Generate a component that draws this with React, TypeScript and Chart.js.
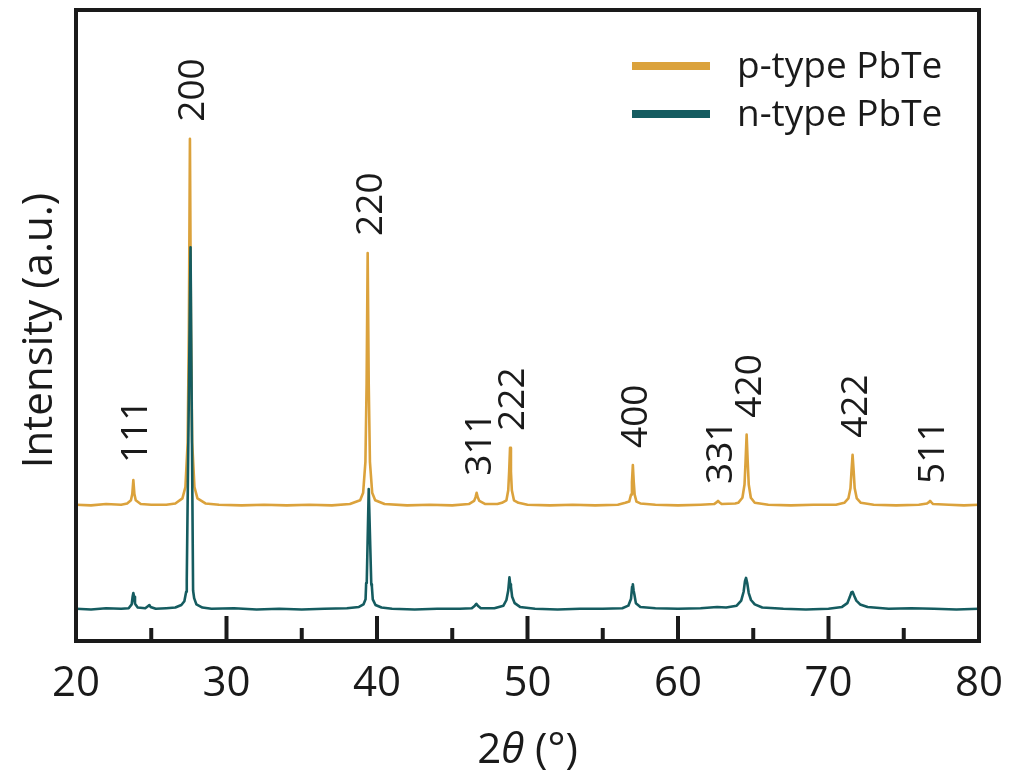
import React, { useEffect, useRef } from "react";
import { Chart, registerables } from "chart.js";

Chart.register(...registerables);

// XRD patterns, [2θ (°), intensity (a.u.)]
const pTypePattern: [number, number][] = [
  [20.0, 21.6], [21.0, 21.5], [22.0, 21.7], [23.0, 21.6], [23.4, 21.8],
  [23.65, 22.3], [23.74, 23.3], [23.81, 25.5], [23.88, 23.3], [23.97, 22.3],
  [24.3, 21.7], [25.0, 21.6], [26.0, 21.6], [26.6, 21.8],
  [27.07, 22.6], [27.27, 24.4], [27.42, 31.5], [27.5, 49.4], [27.57, 79.6],
  [27.64, 49.4], [27.72, 31.5], [27.87, 24.4], [28.07, 22.6], [28.6, 21.8],
  [29.5, 21.6], [31.0, 21.5], [32.5, 21.6], [34.0, 21.5], [35.5, 21.6],
  [37.0, 21.5], [38.2, 21.7],
  [38.88, 22.3], [39.08, 23.5], [39.23, 28.4], [39.31, 40.8], [39.38, 61.5],
  [39.45, 40.8], [39.53, 28.4], [39.68, 23.5], [39.88, 22.3], [40.5, 21.7],
  [42.0, 21.5], [43.5, 21.6], [45.0, 21.5], [46.1, 21.7],
  [46.45, 22.2], [46.55, 22.8], [46.62, 23.5], [46.69, 22.8], [46.8, 22.2],
  [47.2, 21.7], [48.0, 21.7],
  [48.3, 21.9], [48.6, 22.3], [48.72, 23.9], [48.78, 26.8], [48.84, 30.6],
  [48.9, 26.8], [48.96, 23.9], [49.1, 22.3], [49.4, 21.9],
  [50.0, 21.6], [51.5, 21.5], [53.0, 21.6], [54.5, 21.5], [56.0, 21.6],
  [56.5, 21.9], [56.76, 22.1], [56.88, 23.2], [56.94, 25.2], [57.0, 27.9],
  [57.06, 25.2], [57.12, 23.2], [57.24, 22.1], [57.5, 21.8],
  [58.5, 21.6], [60.0, 21.5], [61.5, 21.6], [62.4, 21.7],
  [62.58, 22.0], [62.66, 22.2], [62.74, 22.0], [62.9, 21.7], [63.8, 21.8],
  [64.0, 21.9], [64.28, 22.7], [64.42, 24.8], [64.49, 28.5], [64.56, 32.7],
  [64.63, 28.5], [64.7, 24.8], [64.84, 22.7], [65.1, 21.9],
  [66.0, 21.6], [67.5, 21.5], [69.0, 21.6], [70.5, 21.6],
  [71.05, 21.9], [71.32, 22.6], [71.46, 24.2], [71.53, 27.0], [71.6, 29.5],
  [71.67, 27.0], [71.74, 24.2], [71.88, 22.6], [72.15, 21.9],
  [73.0, 21.6], [74.5, 21.5], [76.0, 21.6],
  [76.55, 21.8], [76.68, 22.0], [76.75, 22.2], [76.82, 22.0], [76.95, 21.7],
  [78.0, 21.6], [79.0, 21.5], [80.0, 21.6],
];

const nTypePattern: [number, number][] = [
  [20.0, 5.1], [21.0, 5.0], [22.0, 5.2], [23.0, 5.1], [23.5, 5.2],
  [23.7, 5.8], [23.76, 7.0], [23.81, 7.6], [23.86, 7.0], [23.92, 5.9],
  [24.1, 5.3], [24.6, 5.2], [24.82, 5.6], [24.88, 5.7], [24.95, 5.4],
  [25.3, 5.1], [26.0, 5.2], [26.6, 5.3],
  [27.0, 5.7], [27.2, 6.3], [27.32, 7.8], [27.36, 9.8], [27.61, 62.4],
  [27.78, 8.0], [27.85, 6.8], [28.0, 5.8], [28.4, 5.3],
  [29.0, 5.1], [30.5, 5.2], [32.0, 5.0], [33.5, 5.1], [35.0, 5.0],
  [36.5, 5.1], [38.0, 5.2], [38.8, 5.4],
  [39.1, 5.8], [39.24, 6.6], [39.28, 9.2], [39.32, 9.4], [39.45, 24.1],
  [39.62, 9.0], [39.66, 8.6], [39.72, 6.6], [39.9, 5.7], [40.3, 5.3],
  [41.0, 5.1], [42.5, 5.0], [44.0, 5.1], [45.5, 5.1], [46.3, 5.2],
  [46.5, 5.6], [46.6, 5.9], [46.7, 5.6], [46.9, 5.2], [47.8, 5.2],
  [48.4, 5.6], [48.6, 6.5], [48.72, 8.0], [48.8, 10.1], [48.85, 9.0],
  [48.9, 8.6], [48.98, 7.0], [49.15, 6.0], [49.5, 5.4],
  [50.5, 5.1], [52.0, 5.0], [53.5, 5.1], [55.0, 5.1], [56.3, 5.2],
  [56.7, 5.6], [56.88, 6.7], [56.95, 8.6], [57.0, 9.0], [57.05, 8.0],
  [57.1, 7.4], [57.2, 6.0], [57.5, 5.4],
  [58.5, 5.2], [60.0, 5.1], [61.5, 5.2], [62.6, 5.4], [63.2, 5.3],
  [63.9, 5.6], [64.2, 6.4], [64.36, 7.8], [64.45, 9.5], [64.52, 10.0],
  [64.6, 9.2], [64.7, 7.6], [64.85, 6.5], [65.1, 5.8], [65.6, 5.3],
  [67.0, 5.1], [68.5, 5.0], [70.0, 5.1], [70.9, 5.4],
  [71.25, 6.0], [71.42, 7.0], [71.52, 7.7], [71.6, 7.8], [71.7, 7.2],
  [71.85, 6.4], [72.1, 5.8], [72.6, 5.4],
  [74.0, 5.1], [75.5, 5.2], [77.0, 5.1], [78.5, 5.0], [80.0, 5.1],
];

// Miller indices of the indexed reflections, their 2θ and the p-type peak height
const reflectionLabels = ["111", "200", "220", "311", "222", "400", "331", "420", "422", "511"];
const reflectionAngles = [23.81, 27.57, 39.38, 46.62, 48.84, 57.0, 62.66, 64.56, 71.6, 76.75];
const reflectionTops = [25.5, 79.6, 61.5, 23.5, 30.6, 27.9, 22.2, 32.7, 29.5, 22.2];

const seriesNames = ["p-type PbTe", "n-type PbTe"];
const seriesColors = ["#DBA23C", "#155C60"];

const majorTickAngles = [30, 40, 50, 60, 70];
const minorTickAngles = [25, 35, 45, 55, 65, 75];

const FONT = "'Open Sans', 'Noto Sans', sans-serif";
const INK = "#1a1a1a";

const decorations = {
  id: "xrdDecorations",
  afterDatasetsDraw(chart: any) {
    const { ctx, chartArea: a, scales } = chart;
    const xs = scales.x;
    const ys = scales.y;
    ctx.save();

    // frame
    ctx.strokeStyle = INK;
    ctx.lineWidth = 4;
    ctx.strokeRect(a.left, a.top, a.right - a.left, a.bottom - a.top);

    // inward ticks on the bottom axis
    ctx.lineCap = "butt";
    majorTickAngles.forEach((v) => {
      const px = xs.getPixelForValue(v);
      ctx.beginPath();
      ctx.moveTo(px, a.bottom);
      ctx.lineTo(px, a.bottom - 25);
      ctx.stroke();
    });
    minorTickAngles.forEach((v) => {
      const px = xs.getPixelForValue(v);
      ctx.beginPath();
      ctx.moveTo(px, a.bottom);
      ctx.lineTo(px, a.bottom - 13);
      ctx.stroke();
    });

    // reflection labels, rotated
    ctx.fillStyle = INK;
    ctx.font = `37px ${FONT}`;
    ctx.textAlign = "left";
    ctx.textBaseline = "alphabetic";
    reflectionLabels.forEach((lab, i) => {
      const px = xs.getPixelForValue(reflectionAngles[i]) + 1;
      const py = ys.getPixelForValue(reflectionTops[i]) - 17;
      ctx.save();
      ctx.translate(px + 13, py);
      ctx.rotate(-Math.PI / 2);
      ctx.fillText(lab, 0, 0);
      ctx.restore();
    });

    // legend
    const legendX = a.left + 556;
    const legendY = [a.top + 56, a.top + 104];
    chart.data.datasets.forEach((ds: any, i: number) => {
      ctx.strokeStyle = ds.borderColor;
      ctx.lineWidth = 8;
      ctx.beginPath();
      ctx.moveTo(legendX, legendY[i]);
      ctx.lineTo(legendX + 78, legendY[i]);
      ctx.stroke();
      ctx.fillStyle = INK;
      ctx.font = `37px ${FONT}`;
      ctx.textBaseline = "middle";
      ctx.fillText(ds.label, legendX + 105, legendY[i] + 1);
    });

    // y title
    ctx.save();
    ctx.translate(a.left - 36, (a.top + a.bottom) / 2 + 5);
    ctx.rotate(-Math.PI / 2);
    ctx.font = `42px ${FONT}`;
    ctx.textAlign = "center";
    ctx.textBaseline = "middle";
    ctx.fillStyle = INK;
    ctx.fillText("Intensity (a.u.)", 0, 0);
    ctx.restore();

    // x title: 2θ (°) with italic theta
    const parts = [
      { t: "2", f: `42px ${FONT}` },
      { t: "θ", f: `italic 42px ${FONT}` },
      { t: " (°)", f: `42px ${FONT}` },
    ];
    let total = 0;
    parts.forEach((p) => {
      ctx.font = p.f;
      total += ctx.measureText(p.t).width;
    });
    let cx = (a.left + a.right) / 2 - total / 2;
    const ty = a.bottom + 122;
    ctx.textAlign = "left";
    ctx.textBaseline = "alphabetic";
    ctx.fillStyle = INK;
    parts.forEach((p) => {
      ctx.font = p.f;
      ctx.fillText(p.t, cx, ty);
      cx += ctx.measureText(p.t).width;
    });

    ctx.restore();
  },
};

export default function App() {
  const canvasRef = useRef<HTMLCanvasElement | null>(null);

  useEffect(() => {
    if (!canvasRef.current) return;
    const toPoints = (arr: [number, number][]) => arr.map(([x, y]) => ({ x, y }));
    const chart = new Chart(canvasRef.current, {
      type: "line",
      data: {
        datasets: [
          {
            label: seriesNames[0],
            data: toPoints(pTypePattern),
            borderColor: seriesColors[0],
            borderWidth: 2.6,
            pointRadius: 0,
            tension: 0,
            borderJoinStyle: "round",
            order: 1,
          },
          {
            label: seriesNames[1],
            data: toPoints(nTypePattern),
            borderColor: seriesColors[1],
            borderWidth: 2.6,
            pointRadius: 0,
            tension: 0,
            borderJoinStyle: "round",
            order: 0,
          },
        ],
      },
      options: {
        animation: false,
        responsive: true,
        maintainAspectRatio: false,
        layout: { padding: { left: 68, right: 29, top: 2, bottom: 0 } },
        plugins: {
          legend: { display: false },
          tooltip: { enabled: false },
        },
        scales: {
          x: {
            type: "linear",
            min: 20,
            max: 80,
            ticks: {
              stepSize: 10,
              color: INK,
              font: { family: FONT, size: 42 },
              padding: 18,
            },
            grid: { display: false, drawTicks: false },
            border: { display: false },
            afterFit: (s: any) => {
              s.height = 129;
              s.paddingLeft = 0;
              s.paddingRight = 0;
            },
          },
          y: {
            type: "linear",
            min: 0,
            max: 100,
            display: false,
          },
        },
      },
      plugins: [decorations],
    });
    return () => chart.destroy();
  }, []);

  return (
    <div style={{ position: "relative", width: 1000, height: 762 }}>
      <canvas ref={canvasRef} />
    </div>
  );
}
